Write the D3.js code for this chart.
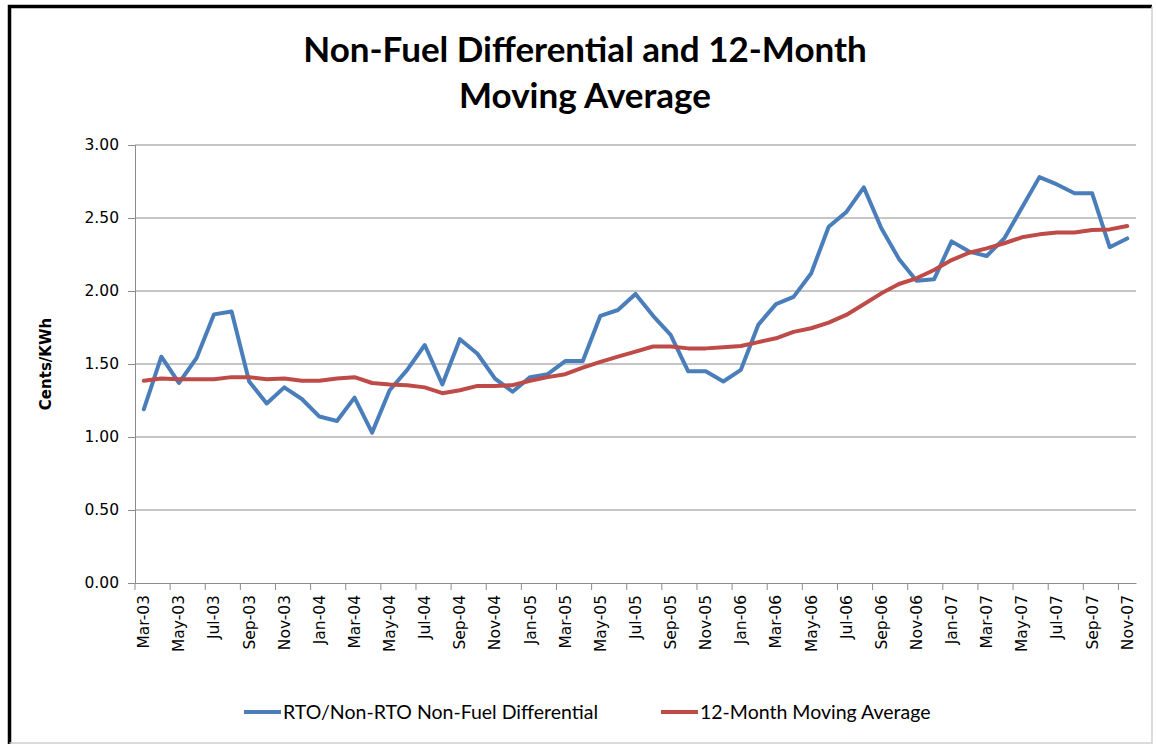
<!DOCTYPE html>
<html>
<head>
<meta charset="utf-8">
<script src="https://cdn.jsdelivr.net/npm/d3@7"></script>
<style>
  html, body { margin: 0; padding: 0; background: #fff; }
  svg { display: block; }
</style>
</head>
<body>
<svg id="chart" width="1156" height="746"></svg>
<script>
const categories = [
  "Mar-03","Apr-03","May-03","Jun-03","Jul-03","Aug-03","Sep-03","Oct-03","Nov-03","Dec-03",
  "Jan-04","Feb-04","Mar-04","Apr-04","May-04","Jun-04","Jul-04","Aug-04","Sep-04","Oct-04","Nov-04","Dec-04",
  "Jan-05","Feb-05","Mar-05","Apr-05","May-05","Jun-05","Jul-05","Aug-05","Sep-05","Oct-05","Nov-05","Dec-05",
  "Jan-06","Feb-06","Mar-06","Apr-06","May-06","Jun-06","Jul-06","Aug-06","Sep-06","Oct-06","Nov-06","Dec-06",
  "Jan-07","Feb-07","Mar-07","Apr-07","May-07","Jun-07","Jul-07","Aug-07","Sep-07","Oct-07","Nov-07"
];

const differential = [
  1.19,1.55,1.37,1.54,1.84,1.86,1.38,1.23,1.34,1.26,
  1.14,1.11,1.27,1.03,1.32,1.46,1.63,1.36,1.67,1.57,1.40,1.31,
  1.41,1.43,1.52,1.52,1.83,1.87,1.98,1.83,1.70,1.45,1.45,1.38,
  1.46,1.77,1.91,1.96,2.12,2.44,2.54,2.71,2.43,2.22,2.07,2.08,
  2.34,2.27,2.24,2.36,2.57,2.78,2.73,2.67,2.67,2.30,2.36
];

const movingAverage = [
  1.386,1.40,1.395,1.395,1.395,1.41,1.41,1.395,1.40,1.385,
  1.385,1.40,1.41,1.37,1.36,1.355,1.34,1.30,1.32,1.35,1.35,1.355,
  1.385,1.41,1.43,1.475,1.515,1.55,1.585,1.62,1.62,1.607,1.607,1.614,
  1.623,1.65,1.676,1.72,1.745,1.783,1.836,1.909,1.984,2.048,2.087,2.144,
  2.212,2.262,2.292,2.327,2.368,2.388,2.40,2.40,2.418,2.422,2.445
];

const yTicks = [0, 0.5, 1, 1.5, 2, 2.5, 3];
const titleLines = ["Non-Fuel Differential and 12-Month", "Moving Average"];
const seriesNames = ["RTO/Non-RTO Non-Fuel Differential", "12-Month Moving Average"];
const seriesColors = ["#4a7ebb", "#be4b48"];

const svg = d3.select("#chart");
const plot = { left: 135, right: 1136, top: 145, bottom: 583 };

// outer frame
svg.append("path")
  .attr("d", "M9.5,744 L9.5,6.5 L1152,6.5")
  .attr("fill", "none").attr("stroke", "#000").attr("stroke-width", 3.5);
svg.append("path")
  .attr("d", "M1152,6.5 L1152,743 L9.5,743")
  .attr("fill", "none").attr("stroke", "#cfcfcf").attr("stroke-width", 1.5);

const x = d3.scaleBand().domain(categories).range([plot.left, plot.right]).padding(0);
const y = d3.scaleLinear().domain([0, 3]).range([plot.bottom, plot.top]);
const cx = d => x(d) + x.bandwidth() / 2;

// title
svg.append("g").selectAll("text").data(titleLines).join("text")
  .attr("x", 585).attr("y", (d, i) => 62 + i * 46)
  .attr("text-anchor", "middle")
  .attr("font-family", "Lato, 'Open Sans', sans-serif")
  .attr("font-weight", "bold").attr("font-size", 35)
  .attr("fill", "#000").text(d => d);

// gridlines
svg.append("g").selectAll("line").data(yTicks.filter(t => t > 0)).join("line")
  .attr("x1", plot.left).attr("x2", plot.right)
  .attr("y1", d => y(d)).attr("y2", d => y(d))
  .attr("stroke", "#8c8c8c").attr("stroke-width", 1);

// y axis
const yAxis = svg.append("g").attr("transform", `translate(${plot.left},0)`)
  .call(d3.axisLeft(y).tickValues(yTicks).tickFormat(d3.format(".2f")).tickSize(7).tickPadding(9));
yAxis.select(".domain").attr("stroke", "#8c8c8c");
yAxis.selectAll(".tick line").attr("stroke", "#8c8c8c");
yAxis.selectAll("text").attr("font-family", "'DejaVu Sans', Verdana, sans-serif")
  .attr("font-size", 15.5).attr("fill", "#000");

// x axis
const xAxis = svg.append("g").attr("transform", `translate(0,${plot.bottom})`)
  .call(d3.axisBottom(x).tickValues(categories.filter((d, i) => i % 2 === 0)).tickSize(7).tickSizeOuter(0));
xAxis.select(".domain").attr("stroke", "#8c8c8c");
xAxis.selectAll(".tick line").attr("stroke", "#8c8c8c")
  .attr("transform", `translate(${-x.bandwidth() / 2},0)`);
xAxis.selectAll("text")
  .attr("font-family", "'DejaVu Sans', Verdana, sans-serif")
  .attr("font-size", 15.5).attr("fill", "#000")
  .attr("transform", "rotate(-90)")
  .attr("x", -12).attr("y", 0).attr("dy", "0.35em")
  .attr("text-anchor", "end");

// y title
svg.append("text")
  .attr("transform", `translate(51,${(plot.top + plot.bottom) / 2}) rotate(-90)`)
  .attr("text-anchor", "middle")
  .attr("font-family", "'DejaVu Sans', Verdana, sans-serif")
  .attr("font-weight", "bold").attr("font-size", 15)
  .attr("fill", "#000").text("Cents/KWh");

// lines
const line = d3.line().x((d, i) => cx(categories[i])).y(d => y(d));
[differential, movingAverage].forEach((series, k) => {
  svg.append("path").datum(series)
    .attr("d", line)
    .attr("fill", "none")
    .attr("stroke", seriesColors[k])
    .attr("stroke-width", 4)
    .attr("stroke-linejoin", "round")
    .attr("stroke-linecap", "round");
});

// legend
const legendX = [244, 661];
const lg = svg.append("g").selectAll("g").data(seriesNames).join("g")
  .attr("transform", (d, i) => `translate(${legendX[i]},712)`);
lg.append("line").attr("x1", 0).attr("x2", 37).attr("y1", 0).attr("y2", 0)
  .attr("stroke", (d, i) => seriesColors[i]).attr("stroke-width", 4);
lg.append("text").attr("x", 39).attr("y", 0).attr("dy", "0.35em")
  .attr("font-family", "Lato, 'Open Sans', sans-serif").attr("font-size", 19.5)
  .attr("fill", "#000").text(d => d);
</script>
</body>
</html>
